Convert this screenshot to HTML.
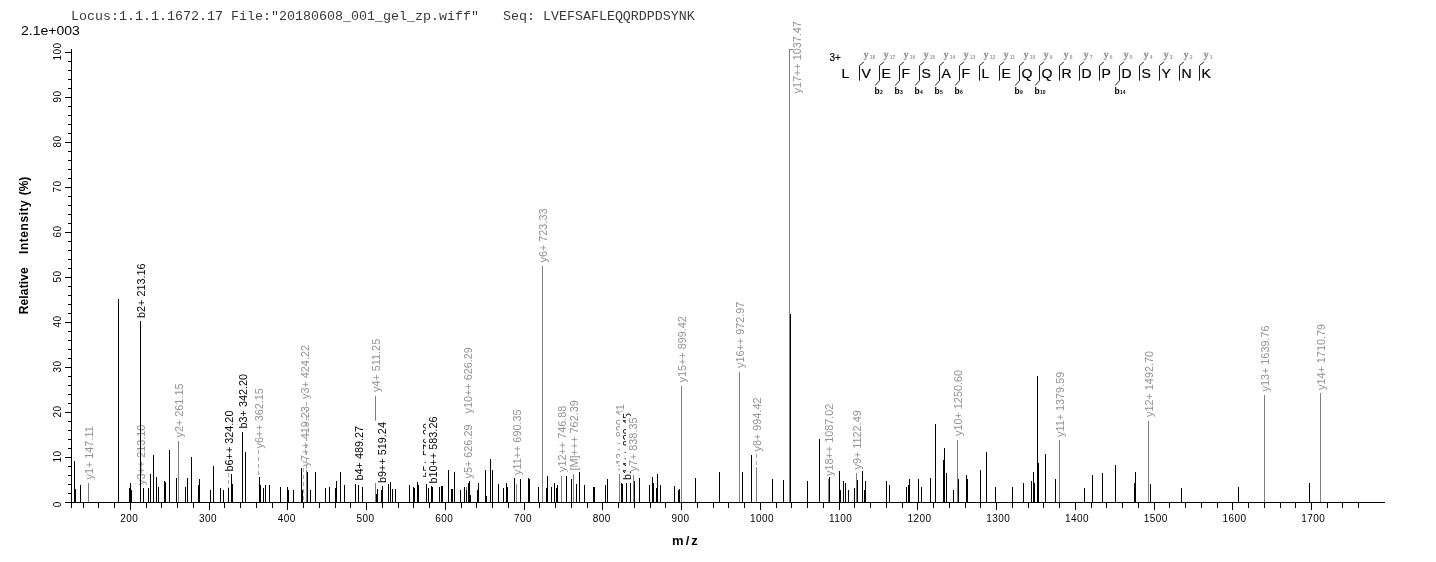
<!DOCTYPE html><html><head><meta charset="utf-8"><title>Spectrum</title>
<style>html,body{margin:0;padding:0;background:#fff}svg{display:block}text{font-family:"Liberation Sans",Arial,sans-serif}.pk{font-size:10.85px}.tk{font-size:10px;letter-spacing:0.44px}.mono{font-family:"Liberation Mono","Courier New",monospace;font-size:13.33px;fill:#3a3a3a}</style></head><body>
<svg width="1436" height="562" viewBox="0 0 1436 562">
<rect width="1436" height="562" fill="#fff"/>
<text class="mono" x="71" y="20" xml:space="preserve">Locus:1.1.1.1672.17 File:"20180608_001_gel_zp.wiff"   Seq: LVEFSAFLEQQRDPDSYNK</text>
<text x="0" y="0" font-size="12" transform="translate(21,35) scale(1.17,1)">2.1e+003</text>
<g shape-rendering="crispEdges" fill="#000">
<rect x="71" y="49" width="1" height="459"/>
<rect x="65" y="502" width="1320" height="1"/>
<rect x="65" y="502" width="6" height="1"/>
<rect x="68" y="493" width="3" height="1"/>
<rect x="68" y="484" width="3" height="1"/>
<rect x="68" y="475" width="3" height="1"/>
<rect x="68" y="466" width="3" height="1"/>
<rect x="65" y="457" width="6" height="1"/>
<rect x="68" y="448" width="3" height="1"/>
<rect x="68" y="439" width="3" height="1"/>
<rect x="68" y="430" width="3" height="1"/>
<rect x="68" y="421" width="3" height="1"/>
<rect x="65" y="412" width="6" height="1"/>
<rect x="68" y="403" width="3" height="1"/>
<rect x="68" y="394" width="3" height="1"/>
<rect x="68" y="385" width="3" height="1"/>
<rect x="68" y="376" width="3" height="1"/>
<rect x="65" y="367" width="6" height="1"/>
<rect x="68" y="358" width="3" height="1"/>
<rect x="68" y="349" width="3" height="1"/>
<rect x="68" y="340" width="3" height="1"/>
<rect x="68" y="331" width="3" height="1"/>
<rect x="65" y="322" width="6" height="1"/>
<rect x="68" y="313" width="3" height="1"/>
<rect x="68" y="304" width="3" height="1"/>
<rect x="68" y="295" width="3" height="1"/>
<rect x="68" y="286" width="3" height="1"/>
<rect x="65" y="277" width="6" height="1"/>
<rect x="68" y="268" width="3" height="1"/>
<rect x="68" y="259" width="3" height="1"/>
<rect x="68" y="250" width="3" height="1"/>
<rect x="68" y="241" width="3" height="1"/>
<rect x="65" y="232" width="6" height="1"/>
<rect x="68" y="223" width="3" height="1"/>
<rect x="68" y="214" width="3" height="1"/>
<rect x="68" y="205" width="3" height="1"/>
<rect x="68" y="196" width="3" height="1"/>
<rect x="65" y="187" width="6" height="1"/>
<rect x="68" y="178" width="3" height="1"/>
<rect x="68" y="169" width="3" height="1"/>
<rect x="68" y="160" width="3" height="1"/>
<rect x="68" y="151" width="3" height="1"/>
<rect x="65" y="142" width="6" height="1"/>
<rect x="68" y="133" width="3" height="1"/>
<rect x="68" y="124" width="3" height="1"/>
<rect x="68" y="115" width="3" height="1"/>
<rect x="68" y="106" width="3" height="1"/>
<rect x="65" y="97" width="6" height="1"/>
<rect x="68" y="88" width="3" height="1"/>
<rect x="68" y="79" width="3" height="1"/>
<rect x="68" y="70" width="3" height="1"/>
<rect x="68" y="61" width="3" height="1"/>
<rect x="65" y="52" width="6" height="1"/>
<rect x="83" y="503" width="1" height="5"/>
<rect x="98" y="503" width="1" height="5"/>
<rect x="114" y="503" width="1" height="5"/>
<rect x="130" y="503" width="1" height="7"/>
<rect x="146" y="503" width="1" height="5"/>
<rect x="161" y="503" width="1" height="5"/>
<rect x="177" y="503" width="1" height="5"/>
<rect x="193" y="503" width="1" height="5"/>
<rect x="209" y="503" width="1" height="7"/>
<rect x="224" y="503" width="1" height="5"/>
<rect x="240" y="503" width="1" height="5"/>
<rect x="256" y="503" width="1" height="5"/>
<rect x="272" y="503" width="1" height="5"/>
<rect x="287" y="503" width="1" height="7"/>
<rect x="303" y="503" width="1" height="5"/>
<rect x="319" y="503" width="1" height="5"/>
<rect x="335" y="503" width="1" height="5"/>
<rect x="350" y="503" width="1" height="5"/>
<rect x="366" y="503" width="1" height="7"/>
<rect x="382" y="503" width="1" height="5"/>
<rect x="398" y="503" width="1" height="5"/>
<rect x="413" y="503" width="1" height="5"/>
<rect x="429" y="503" width="1" height="5"/>
<rect x="445" y="503" width="1" height="7"/>
<rect x="461" y="503" width="1" height="5"/>
<rect x="476" y="503" width="1" height="5"/>
<rect x="492" y="503" width="1" height="5"/>
<rect x="508" y="503" width="1" height="5"/>
<rect x="524" y="503" width="1" height="7"/>
<rect x="539" y="503" width="1" height="5"/>
<rect x="555" y="503" width="1" height="5"/>
<rect x="571" y="503" width="1" height="5"/>
<rect x="587" y="503" width="1" height="5"/>
<rect x="602" y="503" width="1" height="7"/>
<rect x="618" y="503" width="1" height="5"/>
<rect x="634" y="503" width="1" height="5"/>
<rect x="650" y="503" width="1" height="5"/>
<rect x="665" y="503" width="1" height="5"/>
<rect x="681" y="503" width="1" height="7"/>
<rect x="697" y="503" width="1" height="5"/>
<rect x="713" y="503" width="1" height="5"/>
<rect x="728" y="503" width="1" height="5"/>
<rect x="744" y="503" width="1" height="5"/>
<rect x="760" y="503" width="1" height="7"/>
<rect x="776" y="503" width="1" height="5"/>
<rect x="791" y="503" width="1" height="5"/>
<rect x="807" y="503" width="1" height="5"/>
<rect x="823" y="503" width="1" height="5"/>
<rect x="839" y="503" width="1" height="7"/>
<rect x="854" y="503" width="1" height="5"/>
<rect x="870" y="503" width="1" height="5"/>
<rect x="886" y="503" width="1" height="5"/>
<rect x="902" y="503" width="1" height="5"/>
<rect x="917" y="503" width="1" height="7"/>
<rect x="933" y="503" width="1" height="5"/>
<rect x="949" y="503" width="1" height="5"/>
<rect x="965" y="503" width="1" height="5"/>
<rect x="980" y="503" width="1" height="5"/>
<rect x="996" y="503" width="1" height="7"/>
<rect x="1012" y="503" width="1" height="5"/>
<rect x="1028" y="503" width="1" height="5"/>
<rect x="1043" y="503" width="1" height="5"/>
<rect x="1059" y="503" width="1" height="5"/>
<rect x="1075" y="503" width="1" height="7"/>
<rect x="1091" y="503" width="1" height="5"/>
<rect x="1106" y="503" width="1" height="5"/>
<rect x="1122" y="503" width="1" height="5"/>
<rect x="1138" y="503" width="1" height="5"/>
<rect x="1154" y="503" width="1" height="7"/>
<rect x="1169" y="503" width="1" height="5"/>
<rect x="1185" y="503" width="1" height="5"/>
<rect x="1201" y="503" width="1" height="5"/>
<rect x="1217" y="503" width="1" height="5"/>
<rect x="1232" y="503" width="1" height="7"/>
<rect x="1248" y="503" width="1" height="5"/>
<rect x="1264" y="503" width="1" height="5"/>
<rect x="1280" y="503" width="1" height="5"/>
<rect x="1295" y="503" width="1" height="5"/>
<rect x="1311" y="503" width="1" height="7"/>
<rect x="1327" y="503" width="1" height="5"/>
<rect x="1342" y="503" width="1" height="5"/>
<rect x="1358" y="503" width="1" height="5"/>
</g>
<text class="tk" text-anchor="middle" transform="translate(61,504.3) rotate(-90)">0</text>
<text class="tk" text-anchor="middle" transform="translate(61,456.5) rotate(-90)">10</text>
<text class="tk" text-anchor="middle" transform="translate(61,411.5) rotate(-90)">20</text>
<text class="tk" text-anchor="middle" transform="translate(61,366.5) rotate(-90)">30</text>
<text class="tk" text-anchor="middle" transform="translate(61,321.5) rotate(-90)">40</text>
<text class="tk" text-anchor="middle" transform="translate(61,276.5) rotate(-90)">50</text>
<text class="tk" text-anchor="middle" transform="translate(61,231.5) rotate(-90)">60</text>
<text class="tk" text-anchor="middle" transform="translate(61,186.5) rotate(-90)">70</text>
<text class="tk" text-anchor="middle" transform="translate(61,141.5) rotate(-90)">80</text>
<text class="tk" text-anchor="middle" transform="translate(61,96.5) rotate(-90)">90</text>
<text class="tk" text-anchor="middle" transform="translate(61,51.5) rotate(-90)">100</text>
<text class="tk" x="120.2" y="521.7">200</text>
<text class="tk" x="199.0" y="521.7">300</text>
<text class="tk" x="277.7" y="521.7">400</text>
<text class="tk" x="356.5" y="521.7">500</text>
<text class="tk" x="435.2" y="521.7">600</text>
<text class="tk" x="513.9" y="521.7">700</text>
<text class="tk" x="592.7" y="521.7">800</text>
<text class="tk" x="671.4" y="521.7">900</text>
<text class="tk" x="750.1" y="521.7">1000</text>
<text class="tk" x="828.9" y="521.7">1100</text>
<text class="tk" x="907.6" y="521.7">1200</text>
<text class="tk" x="986.3" y="521.7">1300</text>
<text class="tk" x="1065.1" y="521.7">1400</text>
<text class="tk" x="1143.8" y="521.7">1500</text>
<text class="tk" x="1222.6" y="521.7">1600</text>
<text class="tk" x="1301.3" y="521.7">1700</text>
<text font-size="12" font-weight="bold" transform="translate(28,314.3) rotate(-90)"><tspan x="0" letter-spacing="0.15">Relative</tspan><tspan x="60.3" letter-spacing="0.55">Intensity</tspan><tspan x="119">(%)</tspan></text>
<text font-size="13" font-weight="bold" x="672" y="545" letter-spacing="2.1">m/z</text>
<rect shape-rendering="crispEdges" x="74" y="461" width="1" height="41" fill="#000"/>
<rect shape-rendering="crispEdges" x="75" y="489" width="1" height="13" fill="#000"/>
<rect shape-rendering="crispEdges" x="80" y="485" width="1" height="17" fill="#000"/>
<rect shape-rendering="crispEdges" x="88" y="483" width="1" height="19" fill="#808080"/>
<rect x="82" y="424.2" width="14" height="55.3" fill="#fff"/>
<text class="pk" fill="#929292" transform="translate(93,479.5) rotate(-90)">y1+ 147.11</text>
<rect shape-rendering="crispEdges" x="118" y="299" width="1" height="203" fill="#000"/>
<rect shape-rendering="crispEdges" x="129" y="488" width="1" height="14" fill="#000"/>
<rect shape-rendering="crispEdges" x="130" y="483" width="1" height="19" fill="#000"/>
<rect shape-rendering="crispEdges" x="131" y="490" width="1" height="12" fill="#000"/>
<rect x="134.0" y="423.3" width="14" height="61.7" fill="#fff"/>
<text class="pk" fill="#929292" transform="translate(145.0,485) rotate(-90)">y3++ 213.10</text>
<rect shape-rendering="crispEdges" x="140" y="321" width="1" height="181" fill="#000"/>
<rect x="134.0" y="262.1" width="14" height="55.9" fill="#fff"/>
<text class="pk" fill="#000" transform="translate(145.0,318) rotate(-90)">b2+ 213.16</text>
<rect shape-rendering="crispEdges" x="143" y="488" width="1" height="14" fill="#000"/>
<rect shape-rendering="crispEdges" x="148" y="488" width="1" height="14" fill="#000"/>
<rect shape-rendering="crispEdges" x="150" y="474" width="1" height="28" fill="#000"/>
<rect shape-rendering="crispEdges" x="153" y="455" width="1" height="47" fill="#000"/>
<rect shape-rendering="crispEdges" x="156" y="477" width="1" height="25" fill="#000"/>
<rect shape-rendering="crispEdges" x="158" y="487" width="1" height="15" fill="#000"/>
<rect shape-rendering="crispEdges" x="164" y="481" width="1" height="21" fill="#000"/>
<rect shape-rendering="crispEdges" x="165" y="482" width="1" height="20" fill="#000"/>
<rect shape-rendering="crispEdges" x="169" y="450" width="1" height="52" fill="#000"/>
<rect shape-rendering="crispEdges" x="176" y="478" width="1" height="24" fill="#000"/>
<rect shape-rendering="crispEdges" x="178" y="441" width="1" height="61" fill="#808080"/>
<rect x="172" y="382.2" width="14" height="55.3" fill="#fff"/>
<text class="pk" fill="#929292" transform="translate(183,437.5) rotate(-90)">y2+ 261.15</text>
<rect shape-rendering="crispEdges" x="185" y="487" width="1" height="15" fill="#000"/>
<rect shape-rendering="crispEdges" x="187" y="478" width="1" height="24" fill="#000"/>
<rect shape-rendering="crispEdges" x="191" y="457" width="1" height="45" fill="#000"/>
<rect shape-rendering="crispEdges" x="198" y="485" width="1" height="17" fill="#000"/>
<rect shape-rendering="crispEdges" x="199" y="479" width="1" height="23" fill="#000"/>
<rect shape-rendering="crispEdges" x="210" y="490" width="1" height="12" fill="#000"/>
<rect shape-rendering="crispEdges" x="213" y="466" width="1" height="36" fill="#000"/>
<rect shape-rendering="crispEdges" x="220" y="488" width="1" height="14" fill="#000"/>
<rect shape-rendering="crispEdges" x="223" y="490" width="1" height="12" fill="#000"/>
<rect shape-rendering="crispEdges" x="228" y="488" width="1" height="14" fill="#000"/>
<line shape-rendering="crispEdges" x1="228.5" y1="473" x2="228.5" y2="488" stroke="#a8a8a8" stroke-width="1" stroke-dasharray="4,3"/>
<rect x="222" y="409.2" width="14" height="62.3" fill="#fff"/>
<text class="pk" fill="#000" transform="translate(233,471.5) rotate(-90)">b6++ 324.20</text>
<rect shape-rendering="crispEdges" x="231" y="474" width="1" height="28" fill="#000"/>
<rect shape-rendering="crispEdges" x="232" y="484" width="1" height="18" fill="#000"/>
<rect shape-rendering="crispEdges" x="242" y="432" width="1" height="70" fill="#000"/>
<rect x="236" y="372.6" width="14" height="55.9" fill="#fff"/>
<text class="pk" fill="#000" transform="translate(247,428.5) rotate(-90)">b3+ 342.20</text>
<rect shape-rendering="crispEdges" x="245" y="452" width="1" height="50" fill="#000"/>
<line shape-rendering="crispEdges" x1="258.5" y1="450" x2="258.5" y2="477" stroke="#a8a8a8" stroke-width="1" stroke-dasharray="4,3"/>
<rect x="252" y="386.8" width="14" height="61.7" fill="#fff"/>
<text class="pk" fill="#929292" transform="translate(263,448.5) rotate(-90)">y6++ 362.15</text>
<rect shape-rendering="crispEdges" x="259" y="477" width="1" height="25" fill="#000"/>
<rect shape-rendering="crispEdges" x="260" y="485" width="1" height="17" fill="#000"/>
<rect shape-rendering="crispEdges" x="263" y="488" width="1" height="14" fill="#000"/>
<rect shape-rendering="crispEdges" x="265" y="485" width="1" height="17" fill="#000"/>
<rect shape-rendering="crispEdges" x="269" y="485" width="1" height="17" fill="#000"/>
<rect shape-rendering="crispEdges" x="280" y="487" width="1" height="15" fill="#000"/>
<rect shape-rendering="crispEdges" x="287" y="487" width="1" height="15" fill="#000"/>
<rect shape-rendering="crispEdges" x="288" y="490" width="1" height="12" fill="#000"/>
<rect shape-rendering="crispEdges" x="293" y="490" width="1" height="12" fill="#000"/>
<rect shape-rendering="crispEdges" x="301" y="468" width="1" height="34" fill="#000"/>
<rect shape-rendering="crispEdges" x="302" y="490" width="1" height="12" fill="#000"/>
<line shape-rendering="crispEdges" x1="303.5" y1="468" x2="303.5" y2="500" stroke="#a8a8a8" stroke-width="1" stroke-dasharray="4,3"/>
<rect x="298" y="404.8" width="14" height="61.7" fill="#fff"/>
<text class="pk" fill="#929292" transform="translate(309,466.5) rotate(-90)">y7++ 419.23</text>
<rect shape-rendering="crispEdges" x="306" y="470" width="1" height="32" fill="#808080"/>
<line shape-rendering="crispEdges" x1="306.5" y1="402" x2="306.5" y2="470" stroke="#a8a8a8" stroke-width="1" stroke-dasharray="4,3"/>
<rect x="298" y="343.7" width="14" height="55.3" fill="#fff"/>
<text class="pk" fill="#929292" transform="translate(309,399) rotate(-90)">y3+ 424.22</text>
<rect shape-rendering="crispEdges" x="307" y="472" width="1" height="30" fill="#000"/>
<rect shape-rendering="crispEdges" x="310" y="490" width="1" height="12" fill="#000"/>
<rect shape-rendering="crispEdges" x="315" y="472" width="1" height="30" fill="#000"/>
<rect shape-rendering="crispEdges" x="325" y="488" width="1" height="14" fill="#000"/>
<rect shape-rendering="crispEdges" x="329" y="487" width="1" height="15" fill="#000"/>
<rect shape-rendering="crispEdges" x="335" y="488" width="1" height="14" fill="#000"/>
<rect shape-rendering="crispEdges" x="336" y="481" width="1" height="21" fill="#000"/>
<rect shape-rendering="crispEdges" x="340" y="472" width="1" height="30" fill="#000"/>
<rect shape-rendering="crispEdges" x="344" y="485" width="1" height="17" fill="#000"/>
<rect shape-rendering="crispEdges" x="355" y="484" width="1" height="18" fill="#000"/>
<rect shape-rendering="crispEdges" x="358" y="485" width="1" height="17" fill="#000"/>
<rect x="352" y="424.6" width="14" height="55.9" fill="#fff"/>
<text class="pk" fill="#000" transform="translate(363,480.5) rotate(-90)">b4+ 489.27</text>
<rect shape-rendering="crispEdges" x="362" y="487" width="1" height="15" fill="#000"/>
<rect shape-rendering="crispEdges" x="375" y="396" width="1" height="106" fill="#808080"/>
<rect x="369" y="336.7" width="14" height="55.3" fill="#fff"/>
<text class="pk" fill="#929292" transform="translate(380,392) rotate(-90)">y4+ 511.25</text>
<rect shape-rendering="crispEdges" x="376" y="494" width="1" height="8" fill="#000"/>
<rect shape-rendering="crispEdges" x="377" y="489" width="1" height="13" fill="#000"/>
<rect shape-rendering="crispEdges" x="381" y="490" width="1" height="12" fill="#000"/>
<rect shape-rendering="crispEdges" x="382" y="486" width="1" height="16" fill="#000"/>
<rect x="375" y="420.7" width="14" height="62.3" fill="#fff"/>
<text class="pk" fill="#000" transform="translate(386,483) rotate(-90)">b9++ 519.24</text>
<rect shape-rendering="crispEdges" x="388" y="484" width="1" height="18" fill="#000"/>
<rect shape-rendering="crispEdges" x="390" y="482" width="1" height="20" fill="#000"/>
<rect shape-rendering="crispEdges" x="392" y="489" width="1" height="13" fill="#000"/>
<rect shape-rendering="crispEdges" x="395" y="489" width="1" height="13" fill="#000"/>
<rect shape-rendering="crispEdges" x="409" y="485" width="1" height="17" fill="#000"/>
<rect shape-rendering="crispEdges" x="413" y="487" width="1" height="15" fill="#000"/>
<rect shape-rendering="crispEdges" x="414" y="488" width="1" height="14" fill="#000"/>
<rect shape-rendering="crispEdges" x="417" y="482" width="1" height="20" fill="#000"/>
<rect shape-rendering="crispEdges" x="418" y="485" width="1" height="17" fill="#000"/>
<rect shape-rendering="crispEdges" x="426" y="484" width="1" height="18" fill="#000"/>
<rect x="420" y="421.6" width="14" height="55.9" fill="#fff"/>
<text class="pk" fill="#000" transform="translate(431,477.5) rotate(-90)">b5+ 576.29</text>
<rect shape-rendering="crispEdges" x="428" y="488" width="1" height="14" fill="#000"/>
<rect shape-rendering="crispEdges" x="431" y="486" width="1" height="16" fill="#000"/>
<rect x="426" y="415.1" width="14" height="68.4" fill="#fff"/>
<text class="pk" fill="#000" transform="translate(437,483.5) rotate(-90)">b10++ 583.26</text>
<rect shape-rendering="crispEdges" x="432" y="487" width="1" height="15" fill="#000"/>
<rect shape-rendering="crispEdges" x="439" y="487" width="1" height="15" fill="#000"/>
<rect shape-rendering="crispEdges" x="441" y="486" width="1" height="16" fill="#000"/>
<rect shape-rendering="crispEdges" x="442" y="486" width="1" height="16" fill="#000"/>
<rect shape-rendering="crispEdges" x="448" y="470" width="1" height="32" fill="#000"/>
<rect shape-rendering="crispEdges" x="451" y="489" width="1" height="13" fill="#000"/>
<rect shape-rendering="crispEdges" x="452" y="489" width="1" height="13" fill="#000"/>
<rect shape-rendering="crispEdges" x="454" y="472" width="1" height="30" fill="#000"/>
<rect shape-rendering="crispEdges" x="460" y="490" width="1" height="12" fill="#000"/>
<rect shape-rendering="crispEdges" x="464" y="487" width="1" height="15" fill="#000"/>
<rect shape-rendering="crispEdges" x="466" y="487" width="1" height="15" fill="#808080"/>
<rect shape-rendering="crispEdges" x="466" y="490" width="1" height="12" fill="#000"/>
<rect x="461" y="423.2" width="14" height="55.3" fill="#fff"/>
<text class="pk" fill="#929292" transform="translate(472,478.5) rotate(-90)">y5+ 626.29</text>
<rect x="461" y="345.7" width="14" height="67.8" fill="#fff"/>
<text class="pk" fill="#929292" transform="translate(472,413.5) rotate(-90)">y10++ 626.29</text>
<rect shape-rendering="crispEdges" x="468" y="483" width="1" height="19" fill="#000"/>
<rect shape-rendering="crispEdges" x="469" y="481" width="1" height="21" fill="#000"/>
<rect shape-rendering="crispEdges" x="470" y="495" width="1" height="7" fill="#000"/>
<rect shape-rendering="crispEdges" x="477" y="490" width="1" height="12" fill="#000"/>
<rect shape-rendering="crispEdges" x="478" y="483" width="1" height="19" fill="#000"/>
<rect shape-rendering="crispEdges" x="485" y="470" width="1" height="32" fill="#000"/>
<rect shape-rendering="crispEdges" x="486" y="496" width="1" height="6" fill="#000"/>
<rect shape-rendering="crispEdges" x="490" y="459" width="1" height="43" fill="#000"/>
<rect shape-rendering="crispEdges" x="492" y="470" width="1" height="32" fill="#000"/>
<rect shape-rendering="crispEdges" x="498" y="484" width="1" height="18" fill="#000"/>
<rect shape-rendering="crispEdges" x="503" y="488" width="1" height="14" fill="#000"/>
<rect shape-rendering="crispEdges" x="506" y="483" width="1" height="19" fill="#000"/>
<rect shape-rendering="crispEdges" x="507" y="487" width="1" height="15" fill="#000"/>
<rect shape-rendering="crispEdges" x="514" y="478" width="1" height="24" fill="#000"/>
<rect shape-rendering="crispEdges" x="516" y="484" width="1" height="18" fill="#808080"/>
<rect x="510" y="407.2" width="14" height="67.8" fill="#fff"/>
<text class="pk" fill="#929292" transform="translate(521,475) rotate(-90)">y11++ 690.35</text>
<rect shape-rendering="crispEdges" x="520" y="479" width="1" height="23" fill="#000"/>
<rect shape-rendering="crispEdges" x="528" y="478" width="1" height="24" fill="#000"/>
<rect shape-rendering="crispEdges" x="529" y="479" width="1" height="23" fill="#000"/>
<rect shape-rendering="crispEdges" x="538" y="487" width="1" height="15" fill="#000"/>
<rect shape-rendering="crispEdges" x="542" y="266" width="1" height="236" fill="#808080"/>
<rect x="536" y="207.2" width="14" height="55.3" fill="#fff"/>
<text class="pk" fill="#929292" transform="translate(547,262.5) rotate(-90)">y6+ 723.33</text>
<rect shape-rendering="crispEdges" x="546" y="488" width="1" height="14" fill="#000"/>
<rect shape-rendering="crispEdges" x="547" y="476" width="1" height="26" fill="#000"/>
<rect shape-rendering="crispEdges" x="551" y="487" width="1" height="15" fill="#000"/>
<rect shape-rendering="crispEdges" x="554" y="483" width="1" height="19" fill="#000"/>
<rect shape-rendering="crispEdges" x="556" y="488" width="1" height="14" fill="#000"/>
<rect shape-rendering="crispEdges" x="557" y="485" width="1" height="17" fill="#000"/>
<rect shape-rendering="crispEdges" x="561" y="476" width="1" height="26" fill="#808080"/>
<rect x="555" y="404.2" width="14" height="67.8" fill="#fff"/>
<text class="pk" fill="#929292" transform="translate(566,472) rotate(-90)">y12++ 746.88</text>
<rect shape-rendering="crispEdges" x="566" y="476" width="1" height="26" fill="#000"/>
<rect shape-rendering="crispEdges" x="571" y="479" width="1" height="23" fill="#000"/>
<rect shape-rendering="crispEdges" x="573" y="474" width="1" height="28" fill="#808080"/>
<rect x="567" y="398.7" width="14" height="71.8" fill="#fff"/>
<text class="pk" fill="#929292" transform="translate(578,470.5) rotate(-90)">[M]+++ 762.39</text>
<rect shape-rendering="crispEdges" x="576" y="484" width="1" height="18" fill="#000"/>
<rect shape-rendering="crispEdges" x="579" y="472" width="1" height="30" fill="#000"/>
<rect shape-rendering="crispEdges" x="584" y="485" width="1" height="17" fill="#000"/>
<rect shape-rendering="crispEdges" x="593" y="487" width="1" height="15" fill="#000"/>
<rect shape-rendering="crispEdges" x="594" y="487" width="1" height="15" fill="#000"/>
<rect shape-rendering="crispEdges" x="605" y="485" width="1" height="17" fill="#000"/>
<rect shape-rendering="crispEdges" x="607" y="479" width="1" height="23" fill="#000"/>
<rect shape-rendering="crispEdges" x="619" y="474" width="1" height="28" fill="#808080"/>
<rect x="613" y="402.7" width="14" height="67.8" fill="#fff"/>
<text class="pk" fill="#929292" transform="translate(624,470.5) rotate(-90)">y13++ 820.41</text>
<rect shape-rendering="crispEdges" x="621" y="483" width="1" height="19" fill="#000"/>
<rect shape-rendering="crispEdges" x="622" y="484" width="1" height="18" fill="#000"/>
<rect shape-rendering="crispEdges" x="626" y="483" width="1" height="19" fill="#000"/>
<rect x="620" y="411.6" width="14" height="68.4" fill="#fff"/>
<text class="pk" fill="#000" transform="translate(631,480) rotate(-90)">b14++ 829.45</text>
<rect shape-rendering="crispEdges" x="630" y="483" width="1" height="19" fill="#000"/>
<rect shape-rendering="crispEdges" x="633" y="475" width="1" height="27" fill="#808080"/>
<rect x="626" y="416.2" width="14" height="55.3" fill="#fff"/>
<text class="pk" fill="#929292" transform="translate(637,471.5) rotate(-90)">y7+ 838.35</text>
<rect shape-rendering="crispEdges" x="634" y="481" width="1" height="21" fill="#000"/>
<rect shape-rendering="crispEdges" x="639" y="478" width="1" height="24" fill="#000"/>
<rect shape-rendering="crispEdges" x="649" y="485" width="1" height="17" fill="#000"/>
<rect shape-rendering="crispEdges" x="652" y="477" width="1" height="25" fill="#000"/>
<rect shape-rendering="crispEdges" x="653" y="483" width="1" height="19" fill="#000"/>
<rect shape-rendering="crispEdges" x="656" y="488" width="1" height="14" fill="#000"/>
<rect shape-rendering="crispEdges" x="657" y="474" width="1" height="28" fill="#000"/>
<rect shape-rendering="crispEdges" x="660" y="485" width="1" height="17" fill="#000"/>
<rect shape-rendering="crispEdges" x="674" y="486" width="1" height="16" fill="#000"/>
<rect shape-rendering="crispEdges" x="678" y="490" width="1" height="12" fill="#000"/>
<rect shape-rendering="crispEdges" x="679" y="489" width="1" height="13" fill="#000"/>
<rect shape-rendering="crispEdges" x="681" y="386" width="1" height="116" fill="#808080"/>
<rect x="675" y="314.7" width="14" height="67.8" fill="#fff"/>
<text class="pk" fill="#929292" transform="translate(686,382.5) rotate(-90)">y15++ 899.42</text>
<rect shape-rendering="crispEdges" x="695" y="478" width="1" height="24" fill="#000"/>
<rect shape-rendering="crispEdges" x="719" y="472" width="1" height="30" fill="#000"/>
<rect shape-rendering="crispEdges" x="739" y="372" width="1" height="130" fill="#808080"/>
<rect x="733" y="300.2" width="14" height="67.8" fill="#fff"/>
<text class="pk" fill="#929292" transform="translate(744,368) rotate(-90)">y16++ 972.97</text>
<rect shape-rendering="crispEdges" x="742" y="472" width="1" height="30" fill="#000"/>
<rect shape-rendering="crispEdges" x="751" y="455" width="1" height="47" fill="#000"/>
<rect shape-rendering="crispEdges" x="756" y="467" width="1" height="35" fill="#808080"/>
<line shape-rendering="crispEdges" x1="756.5" y1="454" x2="756.5" y2="467" stroke="#a8a8a8" stroke-width="1" stroke-dasharray="4,3"/>
<rect x="750" y="396.2" width="14" height="55.3" fill="#fff"/>
<text class="pk" fill="#929292" transform="translate(761,451.5) rotate(-90)">y8+ 994.42</text>
<rect shape-rendering="crispEdges" x="772" y="479" width="1" height="23" fill="#000"/>
<rect shape-rendering="crispEdges" x="783" y="480" width="1" height="22" fill="#000"/>
<rect shape-rendering="crispEdges" x="789" y="49" width="1" height="453" fill="#808080"/>
<rect shape-rendering="crispEdges" x="790" y="314" width="1" height="188" fill="#000"/>
<text class="pk" fill="#929292" transform="translate(800.5,93.5) rotate(-90)">y17++ 1037.47</text>
<rect shape-rendering="crispEdges" x="807" y="481" width="1" height="21" fill="#000"/>
<rect shape-rendering="crispEdges" x="819" y="439" width="1" height="63" fill="#000"/>
<rect shape-rendering="crispEdges" x="828" y="479" width="1" height="23" fill="#808080"/>
<rect x="822" y="402.1" width="14" height="73.9" fill="#fff"/>
<text class="pk" fill="#929292" transform="translate(833,476) rotate(-90)">y18++ 1087.02</text>
<rect shape-rendering="crispEdges" x="829" y="477" width="1" height="25" fill="#000"/>
<rect shape-rendering="crispEdges" x="839" y="471" width="1" height="31" fill="#000"/>
<rect shape-rendering="crispEdges" x="840" y="490" width="1" height="12" fill="#000"/>
<rect shape-rendering="crispEdges" x="843" y="481" width="1" height="21" fill="#000"/>
<rect shape-rendering="crispEdges" x="845" y="483" width="1" height="19" fill="#000"/>
<rect shape-rendering="crispEdges" x="848" y="490" width="1" height="12" fill="#000"/>
<rect shape-rendering="crispEdges" x="854" y="488" width="1" height="14" fill="#000"/>
<rect shape-rendering="crispEdges" x="856" y="473" width="1" height="29" fill="#808080"/>
<rect x="850" y="408.1" width="14" height="61.4" fill="#fff"/>
<text class="pk" fill="#929292" transform="translate(861,469.5) rotate(-90)">y9+ 1122.49</text>
<rect shape-rendering="crispEdges" x="857" y="480" width="1" height="22" fill="#000"/>
<rect shape-rendering="crispEdges" x="862" y="471" width="1" height="31" fill="#000"/>
<rect shape-rendering="crispEdges" x="864" y="490" width="1" height="12" fill="#000"/>
<rect shape-rendering="crispEdges" x="865" y="481" width="1" height="21" fill="#000"/>
<rect shape-rendering="crispEdges" x="886" y="481" width="1" height="21" fill="#000"/>
<rect shape-rendering="crispEdges" x="889" y="485" width="1" height="17" fill="#000"/>
<rect shape-rendering="crispEdges" x="906" y="487" width="1" height="15" fill="#000"/>
<rect shape-rendering="crispEdges" x="908" y="485" width="1" height="17" fill="#000"/>
<rect shape-rendering="crispEdges" x="909" y="479" width="1" height="23" fill="#000"/>
<rect shape-rendering="crispEdges" x="918" y="479" width="1" height="23" fill="#000"/>
<rect shape-rendering="crispEdges" x="921" y="487" width="1" height="15" fill="#000"/>
<rect shape-rendering="crispEdges" x="930" y="478" width="1" height="24" fill="#000"/>
<rect shape-rendering="crispEdges" x="935" y="424" width="1" height="78" fill="#000"/>
<rect shape-rendering="crispEdges" x="943" y="460" width="1" height="42" fill="#000"/>
<rect shape-rendering="crispEdges" x="944" y="448" width="1" height="54" fill="#000"/>
<rect shape-rendering="crispEdges" x="946" y="473" width="1" height="29" fill="#000"/>
<rect shape-rendering="crispEdges" x="953" y="490" width="1" height="12" fill="#000"/>
<rect shape-rendering="crispEdges" x="957" y="440" width="1" height="62" fill="#808080"/>
<rect x="951" y="368.5" width="14" height="67.5" fill="#fff"/>
<text class="pk" fill="#929292" transform="translate(962,436) rotate(-90)">y10+ 1250.60</text>
<rect shape-rendering="crispEdges" x="958" y="479" width="1" height="23" fill="#000"/>
<rect shape-rendering="crispEdges" x="966" y="475" width="1" height="27" fill="#000"/>
<rect shape-rendering="crispEdges" x="967" y="479" width="1" height="23" fill="#000"/>
<rect shape-rendering="crispEdges" x="980" y="470" width="1" height="32" fill="#000"/>
<rect shape-rendering="crispEdges" x="986" y="452" width="1" height="50" fill="#000"/>
<rect shape-rendering="crispEdges" x="995" y="487" width="1" height="15" fill="#000"/>
<rect shape-rendering="crispEdges" x="1012" y="487" width="1" height="15" fill="#000"/>
<rect shape-rendering="crispEdges" x="1023" y="483" width="1" height="19" fill="#000"/>
<rect shape-rendering="crispEdges" x="1031" y="481" width="1" height="21" fill="#000"/>
<rect shape-rendering="crispEdges" x="1033" y="472" width="1" height="30" fill="#000"/>
<rect shape-rendering="crispEdges" x="1034" y="483" width="1" height="19" fill="#000"/>
<rect shape-rendering="crispEdges" x="1037" y="376" width="1" height="126" fill="#000"/>
<rect shape-rendering="crispEdges" x="1038" y="463" width="1" height="39" fill="#000"/>
<rect shape-rendering="crispEdges" x="1045" y="454" width="1" height="48" fill="#000"/>
<rect shape-rendering="crispEdges" x="1055" y="479" width="1" height="23" fill="#000"/>
<rect shape-rendering="crispEdges" x="1059" y="440" width="1" height="62" fill="#808080"/>
<rect x="1053" y="369.5" width="14" height="67.5" fill="#fff"/>
<text class="pk" fill="#929292" transform="translate(1064,437) rotate(-90)">y11+ 1379.59</text>
<rect shape-rendering="crispEdges" x="1084" y="488" width="1" height="14" fill="#000"/>
<rect shape-rendering="crispEdges" x="1092" y="475" width="1" height="27" fill="#000"/>
<rect shape-rendering="crispEdges" x="1102" y="473" width="1" height="29" fill="#000"/>
<rect shape-rendering="crispEdges" x="1115" y="465" width="1" height="37" fill="#000"/>
<rect shape-rendering="crispEdges" x="1134" y="483" width="1" height="19" fill="#000"/>
<rect shape-rendering="crispEdges" x="1135" y="472" width="1" height="30" fill="#000"/>
<rect shape-rendering="crispEdges" x="1148" y="421" width="1" height="81" fill="#808080"/>
<rect x="1142" y="349.5" width="14" height="67.5" fill="#fff"/>
<text class="pk" fill="#929292" transform="translate(1153,417) rotate(-90)">y12+ 1492.70</text>
<rect shape-rendering="crispEdges" x="1150" y="484" width="1" height="18" fill="#000"/>
<rect shape-rendering="crispEdges" x="1181" y="488" width="1" height="14" fill="#000"/>
<rect shape-rendering="crispEdges" x="1238" y="487" width="1" height="15" fill="#000"/>
<rect shape-rendering="crispEdges" x="1264" y="395" width="1" height="107" fill="#808080"/>
<rect x="1258" y="324.0" width="14" height="67.5" fill="#fff"/>
<text class="pk" fill="#929292" transform="translate(1269,391.5) rotate(-90)">y13+ 1639.76</text>
<rect shape-rendering="crispEdges" x="1309" y="483" width="1" height="19" fill="#000"/>
<rect shape-rendering="crispEdges" x="1320" y="393" width="1" height="109" fill="#808080"/>
<rect x="1314" y="322.5" width="14" height="67.5" fill="#fff"/>
<text class="pk" fill="#929292" transform="translate(1325,390) rotate(-90)">y14+ 1710.79</text>
<rect shape-rendering="crispEdges" x="789" y="49" width="4" height="1" fill="#808080"/>
<text font-size="10" x="829.5" y="61" stroke="#000" stroke-width="0.15">3+</text>
<text font-size="12" stroke="#000" stroke-width="0.2" transform="translate(841.6,77.7) scale(1.17,1)">L</text>
<text font-size="12" stroke="#000" stroke-width="0.2" transform="translate(861.6,77.7) scale(1.17,1)">V</text>
<text font-size="12" stroke="#000" stroke-width="0.2" transform="translate(881.6,77.7) scale(1.17,1)">E</text>
<text font-size="12" stroke="#000" stroke-width="0.2" transform="translate(901.6,77.7) scale(1.17,1)">F</text>
<text font-size="12" stroke="#000" stroke-width="0.2" transform="translate(921.6,77.7) scale(1.17,1)">S</text>
<text font-size="12" stroke="#000" stroke-width="0.2" transform="translate(941.6,77.7) scale(1.17,1)">A</text>
<text font-size="12" stroke="#000" stroke-width="0.2" transform="translate(961.6,77.7) scale(1.17,1)">F</text>
<text font-size="12" stroke="#000" stroke-width="0.2" transform="translate(981.6,77.7) scale(1.17,1)">L</text>
<text font-size="12" stroke="#000" stroke-width="0.2" transform="translate(1001.6,77.7) scale(1.17,1)">E</text>
<text font-size="12" stroke="#000" stroke-width="0.2" transform="translate(1021.6,77.7) scale(1.17,1)">Q</text>
<text font-size="12" stroke="#000" stroke-width="0.2" transform="translate(1041.6,77.7) scale(1.17,1)">Q</text>
<text font-size="12" stroke="#000" stroke-width="0.2" transform="translate(1061.6,77.7) scale(1.17,1)">R</text>
<text font-size="12" stroke="#000" stroke-width="0.2" transform="translate(1081.6,77.7) scale(1.17,1)">D</text>
<text font-size="12" stroke="#000" stroke-width="0.2" transform="translate(1101.6,77.7) scale(1.17,1)">P</text>
<text font-size="12" stroke="#000" stroke-width="0.2" transform="translate(1121.6,77.7) scale(1.17,1)">D</text>
<text font-size="12" stroke="#000" stroke-width="0.2" transform="translate(1141.6,77.7) scale(1.17,1)">S</text>
<text font-size="12" stroke="#000" stroke-width="0.2" transform="translate(1161.6,77.7) scale(1.17,1)">Y</text>
<text font-size="12" stroke="#000" stroke-width="0.2" transform="translate(1181.6,77.7) scale(1.17,1)">N</text>
<text font-size="12" stroke="#000" stroke-width="0.2" transform="translate(1201.6,77.7) scale(1.17,1)">K</text>
<path d="M863.9,62 L859.5,65.6 L859.5,80.7" fill="none" stroke="#000" stroke-width="0.9"/>
<text x="863.7" y="58" fill="#999" style="font-family:'Liberation Serif',serif" font-weight="bold" font-size="9.5" stroke="#999" stroke-width="0.35">y<tspan stroke="none" font-weight="bold" style="font-family:'Liberation Sans',sans-serif" font-size="5" dx="1.2" dy="0.8">18</tspan></text>
<path d="M883.9,62 L879.5,65.6 L879.5,80.7 L875.1,85.6" fill="none" stroke="#000" stroke-width="0.9"/>
<text x="883.7" y="58" fill="#999" style="font-family:'Liberation Serif',serif" font-weight="bold" font-size="9.5" stroke="#999" stroke-width="0.35">y<tspan stroke="none" font-weight="bold" style="font-family:'Liberation Sans',sans-serif" font-size="5" dx="1.2" dy="0.8">17</tspan></text>
<text x="874.5" y="93.6" fill="#000" font-weight="bold" font-size="8.5">b<tspan font-size="5" dx="0.3">2</tspan></text>
<path d="M903.9,62 L899.5,65.6 L899.5,80.7 L895.1,85.6" fill="none" stroke="#000" stroke-width="0.9"/>
<text x="903.7" y="58" fill="#999" style="font-family:'Liberation Serif',serif" font-weight="bold" font-size="9.5" stroke="#999" stroke-width="0.35">y<tspan stroke="none" font-weight="bold" style="font-family:'Liberation Sans',sans-serif" font-size="5" dx="1.2" dy="0.8">16</tspan></text>
<text x="894.5" y="93.6" fill="#000" font-weight="bold" font-size="8.5">b<tspan font-size="5" dx="0.3">3</tspan></text>
<path d="M923.9,62 L919.5,65.6 L919.5,80.7 L915.1,85.6" fill="none" stroke="#000" stroke-width="0.9"/>
<text x="923.7" y="58" fill="#999" style="font-family:'Liberation Serif',serif" font-weight="bold" font-size="9.5" stroke="#999" stroke-width="0.35">y<tspan stroke="none" font-weight="bold" style="font-family:'Liberation Sans',sans-serif" font-size="5" dx="1.2" dy="0.8">15</tspan></text>
<text x="914.5" y="93.6" fill="#000" font-weight="bold" font-size="8.5">b<tspan font-size="5" dx="0.3">4</tspan></text>
<path d="M943.9,62 L939.5,65.6 L939.5,80.7 L935.1,85.6" fill="none" stroke="#000" stroke-width="0.9"/>
<text x="943.7" y="58" fill="#999" style="font-family:'Liberation Serif',serif" font-weight="bold" font-size="9.5" stroke="#999" stroke-width="0.35">y<tspan stroke="none" font-weight="bold" style="font-family:'Liberation Sans',sans-serif" font-size="5" dx="1.2" dy="0.8">14</tspan></text>
<text x="934.5" y="93.6" fill="#000" font-weight="bold" font-size="8.5">b<tspan font-size="5" dx="0.3">5</tspan></text>
<path d="M963.9,62 L959.5,65.6 L959.5,80.7 L955.1,85.6" fill="none" stroke="#000" stroke-width="0.9"/>
<text x="963.7" y="58" fill="#999" style="font-family:'Liberation Serif',serif" font-weight="bold" font-size="9.5" stroke="#999" stroke-width="0.35">y<tspan stroke="none" font-weight="bold" style="font-family:'Liberation Sans',sans-serif" font-size="5" dx="1.2" dy="0.8">13</tspan></text>
<text x="954.5" y="93.6" fill="#000" font-weight="bold" font-size="8.5">b<tspan font-size="5" dx="0.3">6</tspan></text>
<path d="M983.9,62 L979.5,65.6 L979.5,80.7" fill="none" stroke="#000" stroke-width="0.9"/>
<text x="983.7" y="58" fill="#999" style="font-family:'Liberation Serif',serif" font-weight="bold" font-size="9.5" stroke="#999" stroke-width="0.35">y<tspan stroke="none" font-weight="bold" style="font-family:'Liberation Sans',sans-serif" font-size="5" dx="1.2" dy="0.8">12</tspan></text>
<path d="M1003.9,62 L999.5,65.6 L999.5,80.7" fill="none" stroke="#000" stroke-width="0.9"/>
<text x="1003.7" y="58" fill="#999" style="font-family:'Liberation Serif',serif" font-weight="bold" font-size="9.5" stroke="#999" stroke-width="0.35">y<tspan stroke="none" font-weight="bold" style="font-family:'Liberation Sans',sans-serif" font-size="5" dx="1.2" dy="0.8">11</tspan></text>
<path d="M1023.9,62 L1019.5,65.6 L1019.5,80.7 L1015.1,85.6" fill="none" stroke="#000" stroke-width="0.9"/>
<text x="1023.7" y="58" fill="#999" style="font-family:'Liberation Serif',serif" font-weight="bold" font-size="9.5" stroke="#999" stroke-width="0.35">y<tspan stroke="none" font-weight="bold" style="font-family:'Liberation Sans',sans-serif" font-size="5" dx="1.2" dy="0.8">10</tspan></text>
<text x="1014.5" y="93.6" fill="#000" font-weight="bold" font-size="8.5">b<tspan font-size="5" dx="0.3">9</tspan></text>
<path d="M1043.9,62 L1039.5,65.6 L1039.5,80.7 L1035.1,85.6" fill="none" stroke="#000" stroke-width="0.9"/>
<text x="1043.7" y="58" fill="#999" style="font-family:'Liberation Serif',serif" font-weight="bold" font-size="9.5" stroke="#999" stroke-width="0.35">y<tspan stroke="none" font-weight="bold" style="font-family:'Liberation Sans',sans-serif" font-size="5" dx="1.2" dy="0.8">9</tspan></text>
<text x="1034.5" y="93.6" fill="#000" font-weight="bold" font-size="8.5">b<tspan font-size="5" dx="0.3">10</tspan></text>
<path d="M1063.9,62 L1059.5,65.6 L1059.5,80.7" fill="none" stroke="#000" stroke-width="0.9"/>
<text x="1063.7" y="58" fill="#999" style="font-family:'Liberation Serif',serif" font-weight="bold" font-size="9.5" stroke="#999" stroke-width="0.35">y<tspan stroke="none" font-weight="bold" style="font-family:'Liberation Sans',sans-serif" font-size="5" dx="1.2" dy="0.8">8</tspan></text>
<path d="M1083.9,62 L1079.5,65.6 L1079.5,80.7" fill="none" stroke="#000" stroke-width="0.9"/>
<text x="1083.7" y="58" fill="#999" style="font-family:'Liberation Serif',serif" font-weight="bold" font-size="9.5" stroke="#999" stroke-width="0.35">y<tspan stroke="none" font-weight="bold" style="font-family:'Liberation Sans',sans-serif" font-size="5" dx="1.2" dy="0.8">7</tspan></text>
<path d="M1103.9,62 L1099.5,65.6 L1099.5,80.7" fill="none" stroke="#000" stroke-width="0.9"/>
<text x="1103.7" y="58" fill="#999" style="font-family:'Liberation Serif',serif" font-weight="bold" font-size="9.5" stroke="#999" stroke-width="0.35">y<tspan stroke="none" font-weight="bold" style="font-family:'Liberation Sans',sans-serif" font-size="5" dx="1.2" dy="0.8">6</tspan></text>
<path d="M1123.9,62 L1119.5,65.6 L1119.5,80.7 L1115.1,85.6" fill="none" stroke="#000" stroke-width="0.9"/>
<text x="1123.7" y="58" fill="#999" style="font-family:'Liberation Serif',serif" font-weight="bold" font-size="9.5" stroke="#999" stroke-width="0.35">y<tspan stroke="none" font-weight="bold" style="font-family:'Liberation Sans',sans-serif" font-size="5" dx="1.2" dy="0.8">5</tspan></text>
<text x="1114.5" y="93.6" fill="#000" font-weight="bold" font-size="8.5">b<tspan font-size="5" dx="0.3">14</tspan></text>
<path d="M1143.9,62 L1139.5,65.6 L1139.5,80.7" fill="none" stroke="#000" stroke-width="0.9"/>
<text x="1143.7" y="58" fill="#999" style="font-family:'Liberation Serif',serif" font-weight="bold" font-size="9.5" stroke="#999" stroke-width="0.35">y<tspan stroke="none" font-weight="bold" style="font-family:'Liberation Sans',sans-serif" font-size="5" dx="1.2" dy="0.8">4</tspan></text>
<path d="M1163.9,62 L1159.5,65.6 L1159.5,80.7" fill="none" stroke="#000" stroke-width="0.9"/>
<text x="1163.7" y="58" fill="#999" style="font-family:'Liberation Serif',serif" font-weight="bold" font-size="9.5" stroke="#999" stroke-width="0.35">y<tspan stroke="none" font-weight="bold" style="font-family:'Liberation Sans',sans-serif" font-size="5" dx="1.2" dy="0.8">3</tspan></text>
<path d="M1183.9,62 L1179.5,65.6 L1179.5,80.7" fill="none" stroke="#000" stroke-width="0.9"/>
<text x="1183.7" y="58" fill="#999" style="font-family:'Liberation Serif',serif" font-weight="bold" font-size="9.5" stroke="#999" stroke-width="0.35">y<tspan stroke="none" font-weight="bold" style="font-family:'Liberation Sans',sans-serif" font-size="5" dx="1.2" dy="0.8">2</tspan></text>
<path d="M1203.9,62 L1199.5,65.6 L1199.5,80.7" fill="none" stroke="#000" stroke-width="0.9"/>
<text x="1203.7" y="58" fill="#999" style="font-family:'Liberation Serif',serif" font-weight="bold" font-size="9.5" stroke="#999" stroke-width="0.35">y<tspan stroke="none" font-weight="bold" style="font-family:'Liberation Sans',sans-serif" font-size="5" dx="1.2" dy="0.8">1</tspan></text>
</svg></body></html>
